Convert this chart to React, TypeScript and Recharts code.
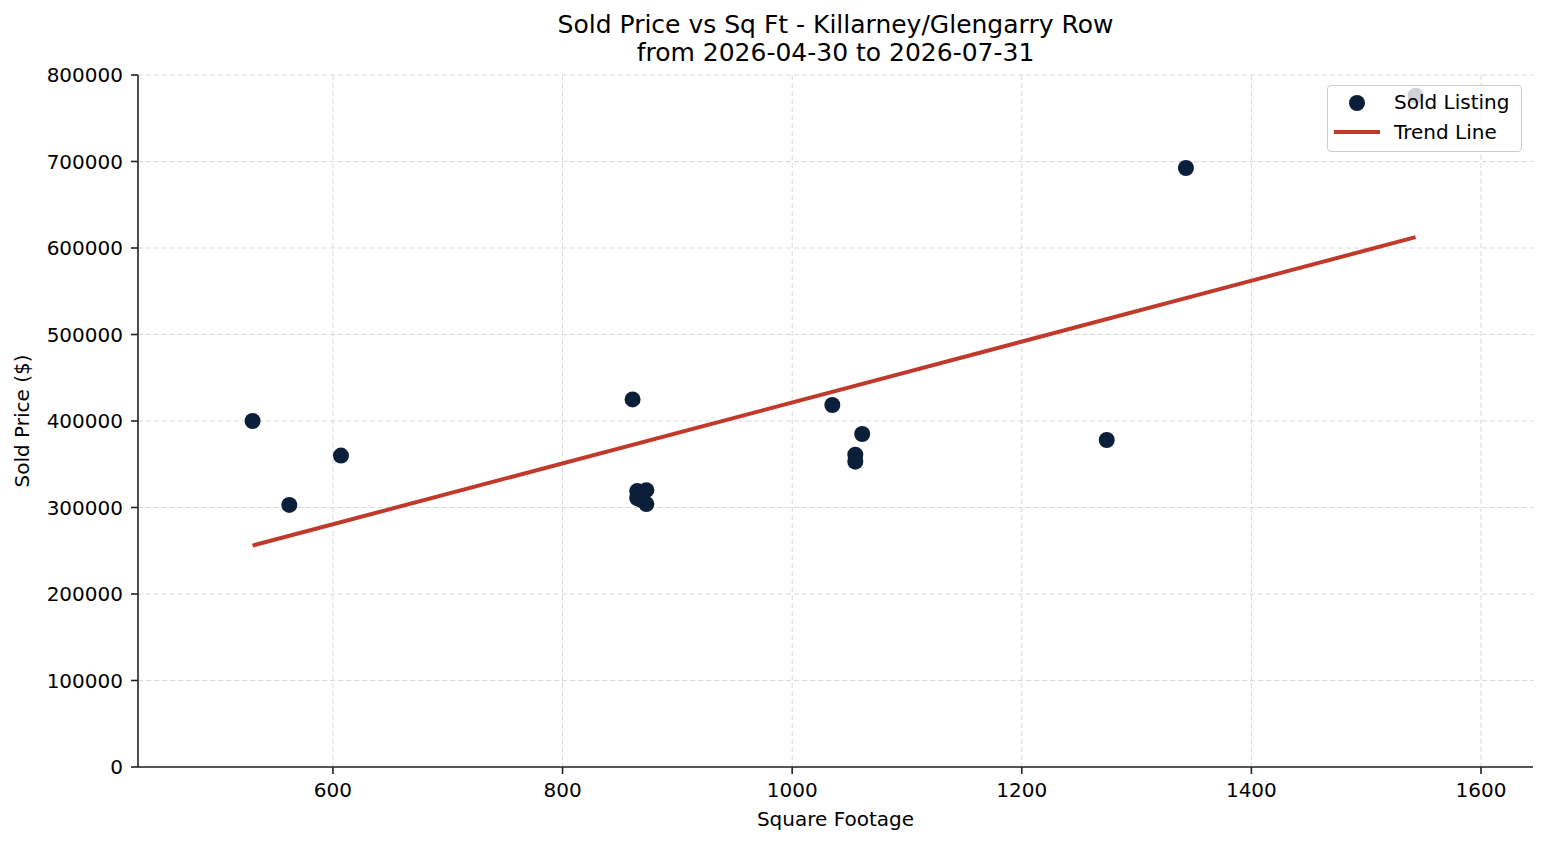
import React from "react";
import {
  ComposedChart,
  Scatter,
  XAxis,
  YAxis,
  CartesianGrid,
  Legend,
} from "recharts";

// sold listings (sq ft, sold price)
const sqft = [530, 562, 607, 861, 865, 873, 865, 868, 873, 1035, 1061, 1055, 1055, 1274, 1343, 1543];
const soldPrice = [
  400000, 303000, 360000, 425000, 319000, 320000, 311000, 309000, 304000,
  418500, 385000, 361000, 353000, 378000, 692500, 776000,
];

// linear fit endpoints
const trendSqft = [530, 1543];
const trendPrice = [256000, 612500];

const xTicks = [600, 800, 1000, 1200, 1400, 1600];
const yTicks = [0, 100000, 200000, 300000, 400000, 500000, 600000, 700000, 800000];

const NAVY = "#0b1f3a";
const RED = "#c0392b";
const FONT = "'DejaVu Sans', sans-serif";

const points = sqft.map((x, i) => ({ x, y: soldPrice[i] }));
const trend = trendSqft.map((x, i) => ({ x, y: trendPrice[i] }));

const Dot = (props: any) => <circle cx={props.cx} cy={props.cy} r={8} fill={NAVY} />;

const renderLegend = () => (
  <div
    style={{
      boxSizing: "border-box",
      width: 195,
      height: 67,
      background: "rgba(255,255,255,0.8)",
      border: "1.5px solid #cccccc",
      borderRadius: 4,
      fontFamily: FONT,
      fontSize: 20,
      color: "#000",
      position: "relative",
    }}
  >
    <svg width={60} height={67} style={{ position: "absolute", left: 0, top: 0 }}>
      <circle cx={29} cy={17} r={8} fill={NAVY} />
      <line x1={6} x2={52} y1={46} y2={46} stroke={RED} strokeWidth={4} />
    </svg>
    <div style={{ position: "absolute", left: 66, top: 4, whiteSpace: "nowrap" }}>Sold Listing</div>
    <div style={{ position: "absolute", left: 66, top: 34, whiteSpace: "nowrap" }}>Trend Line</div>
  </div>
);

export default function App() {
  return (
    <div style={{ position: "absolute", left: 0, top: 0, width: 1547, height: 845, background: "#fff" }}>
      <div
        style={{
          position: "absolute",
          left: 138,
          width: 1395,
          top: 11,
          textAlign: "center",
          fontFamily: FONT,
          fontSize: 25,
          lineHeight: "28px",
          color: "#000",
        }}
      >
        Sold Price vs Sq Ft - Killarney/Glengarry Row
        <br />
        from 2026-04-30 to 2026-07-31
      </div>
      <ComposedChart
        width={1547}
        height={845}
        margin={{ top: 75, right: 14, bottom: 18, left: 8 }}
        style={{ fontFamily: FONT }}
      >
        <CartesianGrid
          stroke="#d9d9d9"
          strokeDasharray="5 3"
          strokeWidth={1}
          horizontalValues={yTicks}
          verticalValues={xTicks}
        />
        <XAxis
          type="number"
          dataKey="x"
          domain={[430.2, 1645.3]}
          ticks={xTicks}
          allowDataOverflow
          height={60}
          tickSize={7}
          tickMargin={9}
          stroke="#222"
          strokeWidth={1.6}
          tick={{ fill: "#000", fontSize: 20 }}
          label={{
            value: "Square Footage",
            position: "insideBottom",
            offset: 1,
            fill: "#000",
            fontSize: 20,
          }}
        />
        <YAxis
          type="number"
          dataKey="y"
          domain={[0, 800000]}
          ticks={yTicks}
          allowDataOverflow
          width={130}
          tickSize={7}
          tickMargin={8}
          stroke="#222"
          strokeWidth={1.6}
          tick={{ fill: "#000", fontSize: 20 }}
          label={{
            value: "Sold Price ($)",
            angle: -90,
            position: "insideLeft",
            offset: 14,
            fill: "#000",
            fontSize: 20,
            style: { textAnchor: "middle" },
          }}
        />
        <Scatter
          name="Sold Listing"
          data={points}
          fill={NAVY}
          shape={Dot}
          isAnimationActive={false}
        />
        <Scatter
          name="Trend Line"
          data={trend}
          line={{ stroke: RED, strokeWidth: 4 }}
          shape={() => null}
          isAnimationActive={false}
        />
        <Legend
          layout="vertical"
          verticalAlign="middle"
          align="center"
          content={renderLegend}
          wrapperStyle={{ left: 1327, top: 85, width: 195, height: 67 }}
        />
      </ComposedChart>
    </div>
  );
}
